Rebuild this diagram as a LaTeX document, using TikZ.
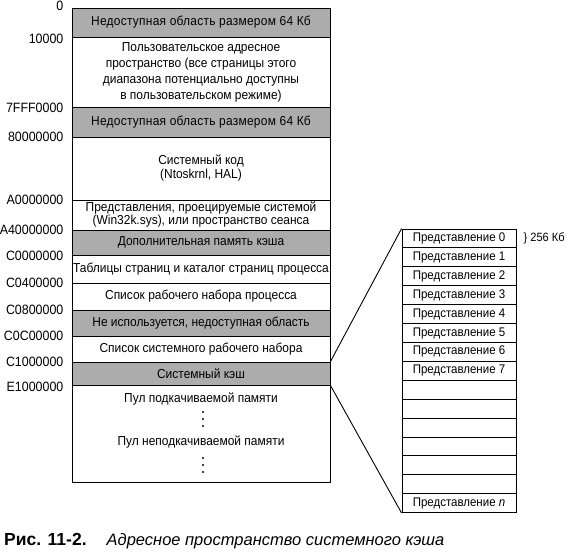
\documentclass[tikz,border=0pt]{standalone}
\usepackage{fontspec}
\setmainfont{Liberation Sans}
\newfontfamily\narrowsans{Liberation Sans}[FakeStretch=0.92]
\usetikzlibrary{positioning}

\begin{document}
\begin{tikzpicture}[x=1pt, y=-1pt, font=\narrowsans\fontsize{13}{14}\selectfont]
    \tikzstyle{every node} = [inner sep=0pt, align=center]
    \tikzstyle{region} = [draw, line width=0.9pt, minimum width=258pt]
    \tikzstyle{blocked} = [region, fill=gray!65]
    \tikzstyle{spaced} = [font=\narrowsans\fontsize{13}{14}\selectfont\addfontfeature{LetterSpace=2}]
    \tikzstyle{addr} = [anchor=east, font=\narrowsans\fontsize{13.5}{14}\selectfont]
    \tikzstyle{view} = [draw, line width=0.9pt, minimum width=114pt, minimum height=18.9pt, font=\narrowsans\fontsize{12.5}{13}\selectfont]

    \useasboundingbox (0,0) rectangle (570,553);

    % address space of the system
    \node[blocked, spaced, minimum height=29pt] (r0) at (201, 22.5) {Недоступная область размером 64 Кб};
    \node[region, minimum height=70pt, font=\narrowsans\fontsize{13}{16}\selectfont] (r1) at (201, 72) {Пользовательское адресное\\пространство (все страницы этого\\диапазона потенциально доступны\\в пользовательском режиме)};
    \node[blocked, spaced, minimum height=30pt] (r2) at (201, 122) {Недоступная область размером 64 Кб};
    \node[region, minimum height=63pt] (r3) at (201, 168.5) {Системный код\\(Ntoskrnl, HAL)};
    \node[region, minimum height=30pt, font=\narrowsans\fontsize{13}{13}\selectfont] (r4) at (201, 215) {Представления, проецируемые системой\\(Win32k.sys), или пространство сеанса};
    \node[blocked, minimum height=25pt] (r5) at (201, 242.5) {Дополнительная память кэша};
    \node[region, minimum height=28pt] (r6) at (201, 269) {Таблицы страниц и каталог страниц процесса};
    \node[region, minimum height=27pt] (r7) at (201, 296.5) {Список рабочего набора процесса};
    \node[blocked, minimum height=26pt] (r8) at (201, 323) {Не используется, недоступная область};
    \node[region, minimum height=26pt] (r9) at (201, 349) {Список системного рабочего набора};
    \node[blocked, minimum height=23pt] (r10) at (201, 373.5) {Системный кэш};
    \node[region, minimum height=97pt] (r11) at (201, 433.5) {};

    \node (p1) at (201, 399) {Пул подкачиваемой памяти};
    \node (p2) at (201, 442) {Пул неподкачиваемой памяти};
    \foreach \y in {412, 419, 426, 458, 465, 472}
        \fill (203, \y) circle (1.2pt);

    % addresses
    \node[addr] (a0) at ([xshift=-8pt, yshift=2pt]r0.north west) {0};
    \node[addr] (a1) at ([xshift=-8pt, yshift=-2pt]r1.north west) {10000};
    \node[addr] (a2) at ([xshift=-8pt, yshift=-1pt]r2.north west) {7FFF0000};
    \node[addr] (a3) at ([xshift=-8pt]r3.north west) {80000000};
    \node[addr] (a4) at ([xshift=-8pt]r4.north west) {A0000000};
    \node[addr] (a5) at ([xshift=-8pt]r5.north west) {A40000000};
    \node[addr] (a6) at ([xshift=-8pt, yshift=-1pt]r6.north west) {C0000000};
    \node[addr] (a7) at ([xshift=-8pt]r7.north west) {C0400000};
    \node[addr] (a8) at ([xshift=-8pt]r8.north west) {C0800000};
    \node[addr] (a9) at ([xshift=-8pt]r9.north west) {C0C00000};
    \node[addr] (a10) at ([xshift=-8pt]r10.north west) {C1000000};
    \node[addr] (a11) at ([xshift=-8pt, yshift=-2pt]r11.north west) {E1000000};

    % views of the system cache
    \node[view] (v0) at (459, 238.5) {Представление 0};
    \node[view] (v1) at (459, 257.4) {Представление 1};
    \node[view] (v2) at (459, 276.3) {Представление 2};
    \node[view] (v3) at (459, 295.2) {Представление 3};
    \node[view] (v4) at (459, 314.1) {Представление 4};
    \node[view] (v5) at (459, 333.0) {Представление 5};
    \node[view] (v6) at (459, 351.9) {Представление 6};
    \node[view] (v7) at (459, 370.8) {Представление 7};
    \node[view] (v8) at (459, 389.7) {};
    \node[view] (v9) at (459, 408.6) {};
    \node[view] (v10) at (459, 427.5) {};
    \node[view] (v11) at (459, 446.4) {};
    \node[view] (v12) at (459, 465.3) {};
    \node[view] (v13) at (459, 484.2) {};
    \node[view] (vn) at (459, 503.1) {Представление \textit{n}};

    \node[anchor=west, font=\narrowsans\fontsize{12}{13}\selectfont] (size) at ([xshift=7pt]v0.east) {\} 256 Кб};

    \draw [line width=0.9pt] (r10.north east) -- (v0.north west);
    \draw [line width=0.9pt] (r10.south east) -- (vn.south west);

    % caption
    \node[anchor=west, font=\fontsize{16.5}{18}\selectfont] (cap) at (4, 541) {\textbf{\fontsize{17.5}{18}\selectfont Рис. 11-2.}\hspace{20pt}\textit{Адресное пространство системного кэша}};
\end{tikzpicture}
\end{document}
